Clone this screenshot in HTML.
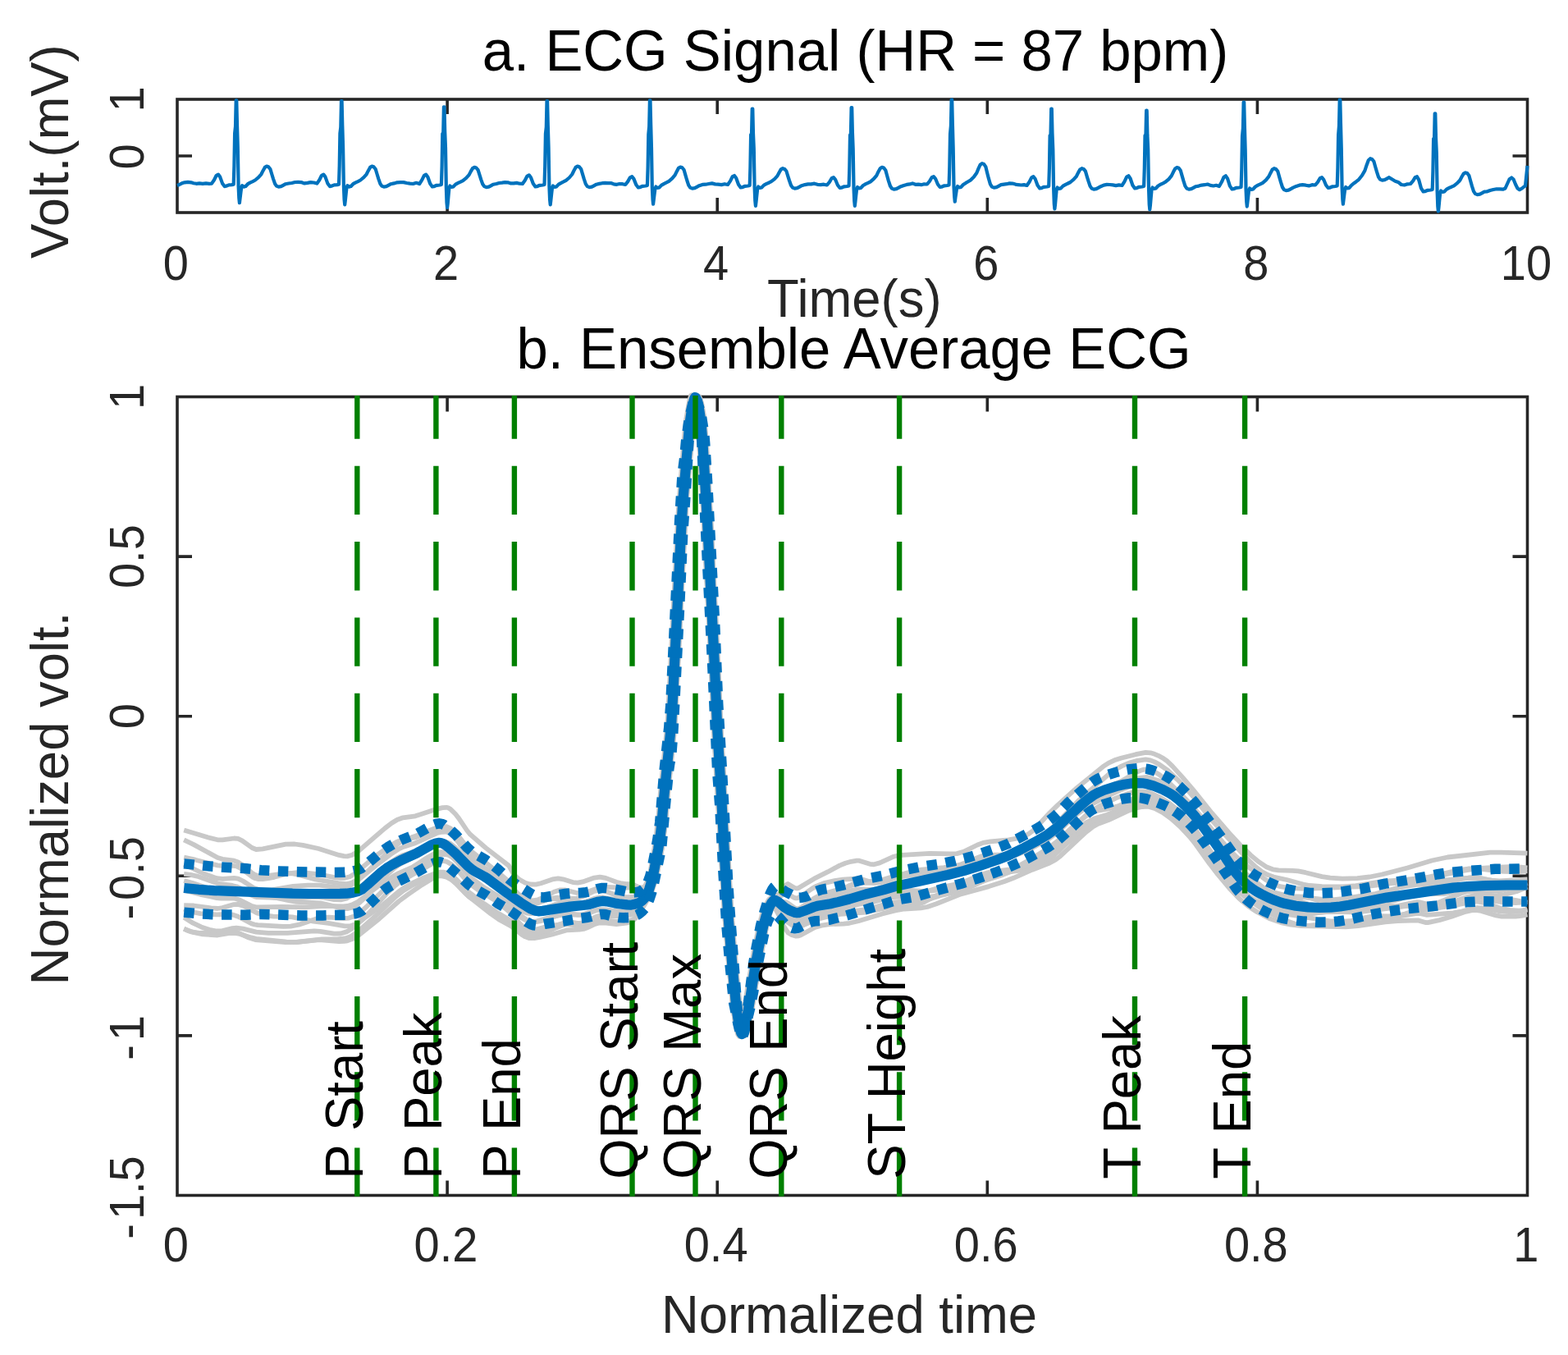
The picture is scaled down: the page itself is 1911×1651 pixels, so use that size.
<!DOCTYPE html>
<html lang="en"><head><meta charset="utf-8"><title>ECG Signal and Ensemble Average ECG</title>
<style>html,body{margin:0;padding:0;background:#fff}body{width:1911px;height:1651px;overflow:hidden}svg{display:block}text{font-family:'Liberation Sans', Arial, Helvetica, sans-serif}</style>
</head><body>
<svg width="1911" height="1651" viewBox="0 0 1911 1651">
<rect width="1911" height="1651" fill="#fff"/>
<defs><clipPath id="cb"><rect x="214" y="476.5" width="1649.5" height="985"/></clipPath>
<clipPath id="cg"><rect x="216" y="482" width="1645.5" height="976"/></clipPath>
<clipPath id="ct"><rect x="215" y="119" width="1649.5" height="142"/></clipPath></defs>
<g id="top-axes">
<g stroke="#262626" stroke-width="3.6" fill="none" stroke-linecap="butt">
<rect x="216" y="121" width="1645.5" height="138"/>
<path d="M545.1 121v18 M545.1 259v-18 M874.2 121v18 M874.2 259v-18 M1203.3 121v18 M1203.3 259v-18 M1532.4 121v18 M1532.4 259v-18 M216 190h18 M1861.5 190h-18"/>
</g>
<path d="M216 225.9 L218.5 225 L221.7 223.3 L225 222.3 L229 221.8 L233 222.3 L236 223.2 L239.3 223.8 L243 223.4 L247 223.9 L251 223.3 L255 223.8 L258 223.6 L261 219.2 L263.7 213.8 L266 212.6 L268.2 215.6 L271 223.4 L273.7 227.1 L275.5 226.8 L279 225.4 L282.5 225.1 L284.7 224.6 L285.4 202.6 L286.1 162.6 L287 154.3 L287.7 122.3 L288.3 122.3 L289 152.3 L289.8 179.6 L290.6 226.6 L291.3 241.2 L291.9 247.2 L292.5 242.2 L293.4 234.8 L294.2 228.6 L295.2 226.1 L297 227.6 L299.4 227 L302 224.2 L305.2 222.4 L308 221.1 L311 219.5 L315 216.2 L318.4 212.3 L320.6 207.9 L322.8 203.9 L325 202.6 L327.2 203.3 L329.4 206 L331.2 212 L333 217.8 L335 223.7 L337 226.6 L339.5 227.6 L342.5 227.2 L345 225.8 L348 224.2 L351.8 223.5 L355.7 223 L359.5 222 L363.3 221.9 L367.1 222.1 L371 223.4 L374.8 222.9 L378.6 222.1 L382.5 222.5 L386.3 223.6 L389.3 219.2 L392 213.8 L394.3 212.6 L396.5 215.6 L399.3 223.4 L402 227.1 L403.8 226.8 L407.3 225.4 L410.8 225.1 L413 224.6 L413.7 202.6 L414.4 162.6 L415.3 155 L416 123 L416.6 123 L417.3 153 L418.1 179.6 L418.9 226.6 L419.6 243.4 L420.2 249.4 L420.8 244.4 L421.7 235.8 L422.5 228.6 L423.5 226.1 L425.3 227.6 L427.7 227 L430.3 224.2 L433.5 222.4 L436.3 221.1 L439.3 219.5 L443.3 216.2 L446.7 212.3 L448.9 207.9 L451.1 203.9 L453.3 202.6 L455.5 203.3 L457.7 206 L459.5 212 L461.3 217.8 L463.3 223.7 L465.3 226.6 L467.8 227.6 L470.8 227.2 L473.3 225.8 L476.3 224.2 L480.2 223.4 L484.1 222.3 L487.9 222.2 L491.8 222.1 L495.7 223 L499.6 223.6 L503.4 224 L507.3 222.8 L511.2 224 L514.2 219.4 L516.9 213.8 L519.2 212.6 L521.4 215.7 L524.2 223.8 L526.9 227.5 L528.7 227.2 L532.2 225.8 L535.7 225.5 L537.9 225 L538.6 203 L539.3 163 L540.2 162.3 L540.9 130.3 L541.5 130.3 L542.2 160.3 L543 180 L543.8 227 L544.5 247 L545.1 253 L545.7 248 L546.6 237.6 L547.4 229 L548.4 226.5 L550.2 228 L552.6 227.4 L555.2 224.6 L558.4 222.9 L561.2 221.6 L564.2 220.1 L568.2 216.9 L571.6 213.1 L573.8 208.9 L576 205.1 L578.2 203.8 L580.4 204.5 L582.6 207.1 L584.4 212.9 L586.2 218.6 L588.2 224.2 L590.2 227.1 L592.7 228.1 L595.7 227.7 L598.2 226.3 L601.2 224.7 L604.8 224 L608.3 223 L611.9 222.6 L615.4 222.1 L619 222.3 L622.6 223.4 L626.1 223.4 L629.7 222.9 L633.2 223.7 L636.8 224 L639.8 219.7 L642.5 214.5 L644.8 213.3 L647 216.2 L649.8 223.8 L652.5 227.5 L654.3 227.2 L657.8 225.8 L661.3 225.5 L663.5 225 L664.2 203 L664.9 163 L665.8 155 L666.5 123 L667.1 123 L667.8 153 L668.6 180 L669.4 227 L670.1 243.4 L670.7 249.4 L671.3 244.4 L672.2 236 L673 229 L674 226.5 L675.8 228 L678.2 227.4 L680.8 224.6 L684 222.8 L686.8 221.4 L689.8 219.8 L693.8 216.5 L697.2 212.5 L699.4 208 L701.6 203.9 L703.8 202.6 L706 203.3 L708.2 206 L710 212.2 L711.8 218.2 L713.8 224.1 L715.8 227.1 L718.3 228.1 L721.3 227.7 L723.8 226.3 L726.8 224.7 L730.3 223.9 L733.9 223.2 L737.4 222.9 L741 223.2 L744.5 223.1 L748 224.3 L751.6 224.8 L755.1 224 L758.7 224.2 L762.2 225 L765.2 221.1 L767.9 216.3 L770.2 215.2 L772.4 217.9 L775.2 224.9 L777.9 228.5 L779.7 228.2 L783.2 226.8 L786.7 226.5 L788.9 226 L789.6 204 L790.3 164 L791.2 154.3 L791.9 122.3 L792.5 122.3 L793.2 152.3 L794 181 L794.8 228 L795.5 242.7 L796.1 248.7 L796.7 243.7 L797.6 236.2 L798.4 230 L799.4 227.5 L801.2 229 L803.6 228.4 L806.2 225.6 L809.4 223.8 L812.2 222.4 L815.2 220.8 L819.2 217.4 L822.6 213.4 L824.8 208.9 L827 204.8 L829.2 203.5 L831.4 204.2 L833.6 207 L835.4 213.4 L837.2 219.5 L839.2 225.6 L841.2 228.6 L843.7 229.6 L846.7 229.2 L849.2 227.8 L852.2 226.2 L856.1 224.9 L859.9 224.7 L863.8 224 L867.7 223.4 L871.5 224.4 L875.4 224.7 L879.3 225.1 L883.1 224.2 L887 225 L890 220.6 L892.7 215.2 L895 214 L897.2 217 L900 224.8 L902.7 228.5 L904.5 228.2 L908 226.8 L911.5 226.5 L913.7 226 L914.4 204 L915.1 164 L916 164.5 L916.7 132.5 L917.3 132.5 L918 162.5 L918.8 181 L919.6 228 L920.3 244.9 L920.9 250.9 L921.5 245.9 L922.4 237.2 L923.2 230 L924.2 227.5 L926 229 L928.4 228.4 L931 225.6 L934.2 223.9 L937 222.7 L940 221.2 L944 218.1 L947.4 214.4 L949.6 210.2 L951.8 206.4 L954 205.2 L956.2 205.9 L958.4 208.5 L960.2 214.4 L962 220 L964 225.7 L966 228.6 L968.5 229.6 L971.5 229.2 L974 227.8 L977 226.2 L980.9 225.1 L984.7 224.4 L988.6 224.3 L992.5 223.7 L996.3 224.8 L1000.2 225.2 L1004 224.7 L1007.9 225.5 L1010.9 221.9 L1013.6 217.2 L1015.9 216.2 L1018.1 218.8 L1020.9 225.5 L1023.6 229 L1025.4 228.7 L1028.9 227.3 L1032.4 227 L1034.6 226.5 L1035.3 204.5 L1036 164.5 L1036.9 163 L1037.6 131 L1038.2 131 L1038.9 161 L1039.7 181.5 L1040.5 228.5 L1041.2 244.9 L1041.8 250.9 L1042.4 245.9 L1043.3 237.5 L1044.1 230.5 L1045.1 228 L1046.9 229.5 L1049.3 228.9 L1051.9 226 L1055.1 224.2 L1057.9 222.9 L1060.9 221.3 L1064.9 217.9 L1068.3 213.8 L1070.5 209.2 L1072.7 205.2 L1074.9 203.8 L1077.1 204.5 L1079.3 207.4 L1081.1 214 L1082.9 220.3 L1084.9 226.5 L1086.9 229.6 L1089.4 230.6 L1092.4 230.2 L1094.9 228.8 L1097.9 227.2 L1101.5 225.9 L1105 224.9 L1108.6 224.4 L1112.1 223.4 L1115.7 224.8 L1119.2 224.7 L1122.8 225.2 L1126.3 224.3 L1129.9 224.5 L1132.9 220.9 L1135.6 216.2 L1137.9 215.2 L1140.1 217.8 L1142.9 224.5 L1145.6 228 L1147.4 227.7 L1150.9 226.3 L1154.4 226 L1156.6 225.5 L1157.3 203.5 L1158 163.5 L1158.9 153.5 L1159.6 121.5 L1160.2 121.5 L1160.9 151.5 L1161.7 180.5 L1162.5 227.5 L1163.2 239.7 L1163.8 245.7 L1164.4 240.7 L1165.3 234.6 L1166.1 229.5 L1167.1 227 L1168.9 228.5 L1171.3 227.9 L1173.9 225 L1177.1 222.9 L1179.9 221.3 L1182.9 219.4 L1186.9 215.5 L1190.3 210.7 L1192.5 205.4 L1194.7 200.7 L1196.9 199.1 L1199.1 199.9 L1201.3 203.1 L1203.1 210.4 L1204.9 217.4 L1206.9 224.4 L1208.9 227.6 L1211.4 228.6 L1214.4 228.2 L1216.9 226.8 L1219.9 225.2 L1223.4 224.7 L1226.9 224.2 L1230.4 223.4 L1233.9 223.6 L1237.5 224.6 L1241 225.2 L1244.5 225.5 L1248 225.1 L1251.5 226 L1254.5 221.7 L1257.2 216.4 L1259.5 215.2 L1261.7 218.1 L1264.5 225.8 L1267.2 229.5 L1269 229.2 L1272.5 227.8 L1276 227.5 L1278.2 227 L1278.9 205 L1279.6 165 L1280.5 164.5 L1281.2 132.5 L1281.8 132.5 L1282.5 162.5 L1283.3 182 L1284.1 229 L1284.8 248.5 L1285.4 254.5 L1286 249.5 L1286.9 239.4 L1287.7 231 L1288.7 228.5 L1290.5 230 L1292.9 229.4 L1295.5 226.6 L1298.7 224.8 L1301.5 223.5 L1304.5 222 L1308.5 218.7 L1311.9 214.8 L1314.1 210.4 L1316.3 206.5 L1318.5 205.2 L1320.7 205.9 L1322.9 208.6 L1324.7 214.8 L1326.5 220.7 L1328.5 226.6 L1330.5 229.6 L1333 230.6 L1336 230.2 L1338.5 228.8 L1341.5 227.2 L1345.2 225.6 L1348.9 224.9 L1352.6 225 L1356.3 225.4 L1360 226.1 L1363.7 225.4 L1367.4 226 L1370.4 221.3 L1373.1 215.6 L1375.4 214.3 L1377.6 217.5 L1380.4 225.7 L1383.1 229.5 L1384.9 229.2 L1388.4 227.8 L1391.9 227.5 L1394.1 227 L1394.8 205 L1395.5 165 L1396.4 166.7 L1397.1 134.7 L1397.7 134.7 L1398.4 164.7 L1399.2 182 L1400 229 L1400.7 249.3 L1401.3 255.3 L1401.9 250.3 L1402.8 239.7 L1403.6 231 L1404.6 228.5 L1406.4 230 L1408.8 229.4 L1411.4 226.5 L1414.6 224.7 L1417.4 223.3 L1420.4 221.7 L1424.4 218.3 L1427.8 214.2 L1430 209.6 L1432.2 205.5 L1434.4 204.1 L1436.6 204.8 L1438.8 207.7 L1440.6 214.1 L1442.4 220.4 L1444.4 226.6 L1446.4 229.6 L1448.9 230.6 L1451.9 230.2 L1454.4 228.8 L1457.4 227.2 L1461 226.6 L1464.5 225.6 L1468.1 225.2 L1471.7 224.5 L1475.2 225.9 L1478.8 226.5 L1482.3 225.8 L1485.9 227 L1488.9 221.8 L1491.6 215.7 L1493.9 214.3 L1496.1 217.7 L1498.9 226.6 L1501.6 230.5 L1503.4 230.2 L1506.9 228.8 L1510.4 228.5 L1512.6 228 L1513.3 206 L1514 166 L1514.9 156.5 L1515.6 124.5 L1516.2 124.5 L1516.9 154.5 L1517.7 183 L1518.5 230 L1519.2 245.6 L1519.8 251.6 L1520.4 246.6 L1521.3 238.6 L1522.1 232 L1523.1 229.5 L1524.9 231 L1527.3 230.4 L1529.9 227.5 L1533.1 225.7 L1535.9 224.4 L1538.9 222.8 L1542.9 219.3 L1546.3 215.2 L1548.5 210.7 L1550.7 206.6 L1552.9 205.2 L1555.1 205.9 L1557.3 208.8 L1559.1 215.4 L1560.9 221.7 L1562.9 228 L1564.9 231.1 L1567.4 232.1 L1570.4 231.7 L1572.9 230.3 L1575.9 228.7 L1579.8 226.9 L1583.6 225.7 L1587.5 225.2 L1591.4 225.7 L1595.3 226.4 L1599.1 225.2 L1603 225.5 L1606 221.9 L1608.7 217.2 L1611 216.2 L1613.2 218.8 L1616 225.5 L1618.7 229 L1620.5 228.7 L1624 227.3 L1627.5 227 L1629.7 226.5 L1630.4 204.5 L1631.1 164.5 L1632 153.5 L1632.7 121.5 L1633.3 121.5 L1634 151.5 L1634.8 181.5 L1635.6 228.5 L1636.3 242.7 L1636.9 248.7 L1637.5 243.7 L1638.4 236.5 L1639.2 230.5 L1640.2 228 L1642 229.5 L1644.4 228.9 L1647 225.8 L1650.2 223.2 L1653 221.2 L1656 218.8 L1660 213.8 L1663.4 207.9 L1665.6 201.2 L1667.8 195.2 L1670 193.2 L1672.2 193.9 L1674.4 196.8 L1676.2 203.2 L1678 209.4 L1680 215.6 L1682 218.6 L1684.5 219.6 L1687.5 219.2 L1690 217.8 L1693 216.2 L1696.7 218.5 L1700.4 220.7 L1704.1 221.9 L1707.9 225 L1711.6 225.5 L1715.3 224.3 L1719 224 L1722 220.6 L1724.7 216.2 L1727 215.2 L1729.2 219.1 L1732 229.4 L1734.7 233.5 L1736.5 233.2 L1740 231.8 L1743.5 231.5 L1745.7 231 L1746.4 209 L1747.1 169 L1748 170.4 L1748.7 138.4 L1749.3 138.4 L1750 168.4 L1750.8 186 L1751.6 233 L1752.3 251.5 L1752.9 257.5 L1753.5 252.5 L1754.4 242.9 L1755.2 235 L1756.2 232.5 L1758 234 L1760.4 233.4 L1763 230.6 L1766.2 228.9 L1769 227.7 L1772 226.3 L1776 223.2 L1779.4 219.5 L1781.6 215.3 L1783.8 211.6 L1786 210.4 L1788.2 211.1 L1790.4 214 L1792.2 220.5 L1794 226.8 L1796 233.1 L1798 236.1 L1800.5 237.1 L1803.5 236.7 L1806 235.3 L1809 233.7 L1812 233.5 L1816 232 L1820 231 L1824 230.3 L1828 230.4 L1832 230.6 L1834.5 229.5 L1837 224 L1839.5 218.5 L1842.3 216.5 L1844.6 218.5 L1847 224.5 L1849.5 229.5 L1852 231.2 L1855 229.5 L1857.3 227.5 L1859 226.5 L1860.2 215 L1861.5 202" fill="none" stroke="#0072BD" stroke-width="4.2" stroke-linejoin="round" stroke-linecap="butt" clip-path="url(#ct)"/>
<g fill="#262626" font-size="58.33" text-anchor="middle">
<text transform="translate(214.4 340.9) scale(0.96 1.03)">0</text>
<text transform="translate(543.5 340.9) scale(0.96 1.03)">2</text>
<text transform="translate(872.6 340.9) scale(0.96 1.03)">4</text>
<text transform="translate(1201.7 340.9) scale(0.96 1.03)">6</text>
<text transform="translate(1530.8 340.9) scale(0.96 1.03)">8</text>
<text transform="translate(1859.9 340.9) scale(0.96 1.03)">10</text>
<text transform="translate(175.2 191) rotate(-90) scale(0.96 1.03)">0</text>
<text transform="translate(175.2 121) rotate(-90) scale(0.96 1.03)">1</text>
</g>
<g fill="#262626" font-size="63.45" text-anchor="middle">
<text transform="translate(1041.3 386.3) scale(1.0 1.03)">Time(s)</text>
<text transform="translate(83 184.7) rotate(-90) scale(1.0 1.03)">Volt.(mV)</text>
</g>
<g fill="#000" font-size="68.9" text-anchor="middle">
<text transform="translate(1042.5 86) scale(1.0 1.03)">a. ECG Signal (HR = 87 bpm)</text>
</g>
</g>
<g id="bottom-axes">
<g fill="#000" font-size="68.9" text-anchor="middle">
<text transform="translate(1040.5 449.2) scale(1.0 1.03)">b. Ensemble Average ECG</text>
</g>
<g stroke="#262626" stroke-width="3.6" fill="none">
<rect x="216" y="483.5" width="1645.5" height="973"/>
<path d="M545.1 483.5v18 M545.1 1456.5v-18 M874.2 483.5v18 M874.2 1456.5v-18 M1203.3 483.5v18 M1203.3 1456.5v-18 M1532.4 483.5v18 M1532.4 1456.5v-18 M216 678.1h18 M1861.5 678.1h-18 M216 872.7h18 M1861.5 872.7h-18 M216 1067.3h18 M1861.5 1067.3h-18 M216 1261.9h18 M1861.5 1261.9h-18"/>
</g>
<g clip-path="url(#cb)" fill="none" stroke-linejoin="round">
<g stroke="#C8C8C8" stroke-width="5.8">
<path d="M224.2 1011.4 L253.2 1020.2 L265.2 1023.3 L271.2 1023.4 L285.2 1021.5 L290.2 1021.9 L295.2 1024.3 L307.2 1033 L312.2 1035 L320.2 1034.4 L348.2 1028.7 L359.2 1028.5 L369.2 1029.9 L388.2 1034 L413.2 1041.9 L419.2 1043.2 L423.2 1043.4 L429.2 1041.8 L436.2 1037.6 L469.2 1009.1 L477.2 1003 L484.2 998.7 L491.2 996.3 L506.2 994.3 L532.2 985.8 L539.2 984.2 L544.2 983.8 L546.2 984.3 L549.2 986.1 L555.2 992 L559.2 997.1 L569.2 1012 L573.2 1016.8 L592.2 1033.2 L620.2 1054.9 L626.2 1065.6 L633.2 1071.8 L640.2 1075.8 L646.2 1077.5 L653.2 1077.6 L659.2 1076.2 L673.2 1071.4 L680.2 1070.4 L686.2 1071.3 L698.2 1075.1 L704.2 1075.6 L710.2 1074.4 L724.2 1069.6 L731.2 1068.6 L738.2 1069.9 L751.2 1074.7 L756.2 1076.1 L763.2 1077.1 L770.2 1077.1 L779.2 1081.4 L783.2 1081.5 L785.2 1080.6 L787.2 1077.7 L789.2 1073.1 L790.2 1072.7 L792.2 1063.9 L798.2 1029.2 L802.2 997.4 L805.2 961.9 L813.2 883.7 L814.2 869.5 L826.2 630.9 L828.2 601.6 L834.2 529.5 L836.2 510.8 L840.2 488 L842.2 481.7 L843.2 481.4 L844.2 483.3 L846.2 490.2 L849.2 506.7 L852.2 542 L857.2 627.2 L866.2 806.8 L870.2 896.4 L882.2 1104.1 L886.2 1154.9 L892.2 1218.8 L895.2 1240.6 L897.2 1250.3 L899.2 1256.8 L900.2 1257 L901.2 1255.2 L905.2 1238.7 L919.2 1156 L925.2 1127.4 L929.2 1112.8 L933.2 1102.5 L937.2 1095.8 L940.2 1093 L945.2 1091.8 L949.2 1089.5 L952.2 1086 L955.2 1080.8 L958.2 1078.1 L960.2 1077 L968.2 1081.8 L971.2 1082.5 L973.2 1082.1 L992.2 1070.7 L1009.2 1062.2 L1023.2 1054.6 L1030.2 1051.7 L1037.2 1049.8 L1044.2 1048.7 L1047.2 1048.7 L1060.2 1052.8 L1065.2 1053.3 L1072.2 1051.4 L1089.2 1043.7 L1095.2 1042.2 L1133.2 1039.9 L1158.2 1040.4 L1166.2 1040.1 L1174.2 1037.8 L1191.2 1029.5 L1198.2 1026.9 L1207.2 1025.3 L1229.2 1023.4 L1240.2 1021.4 L1247.2 1019.3 L1253.2 1016.4 L1259.2 1012 L1279.2 990.6 L1289.2 980.9 L1312.2 960.2 L1344.2 934.2 L1351.2 929.6 L1358.2 926.3 L1366.2 923.8 L1384.2 919.2 L1396.2 916.9 L1402.2 917.3 L1407.2 918.8 L1413.2 921.4 L1418.2 924.3 L1422.2 927.2 L1429.2 933.9 L1441.2 947.1 L1454.2 962.4 L1477.2 991 L1498.2 1015.1 L1511.2 1029.2 L1524.2 1041.9 L1534.2 1050.2 L1543.2 1056.2 L1551.2 1059.3 L1558.2 1060.4 L1575.2 1060.8 L1582.2 1061.4 L1591.2 1063.2 L1611.2 1068.1 L1621.2 1069.7 L1636.2 1070.6 L1654.2 1070.1 L1669.2 1068.5 L1684.2 1065.5 L1715.2 1057.5 L1745.2 1048.5 L1764.2 1044.5 L1816.2 1038.7 L1829.2 1038.6 L1861.5 1039.7"/>
<path d="M224.2 1023.4 L236.2 1029.1 L265.2 1045 L271.2 1046.8 L285.2 1048.7 L290.2 1050.5 L295.2 1053.8 L307.2 1063.8 L310.2 1065.6 L313.2 1066.8 L318.2 1067.3 L325.2 1067.2 L347.2 1064.3 L355.2 1064.2 L363.2 1065.6 L384.2 1071.4 L412.2 1076.2 L422.2 1077.1 L426.2 1076.4 L430.2 1074.9 L434.2 1072.7 L439.2 1069.1 L450.2 1059.7 L479.2 1032.7 L488.2 1025.9 L494.2 1023 L505.2 1019.1 L530.2 1009.2 L537.2 1007.5 L544.2 1007.2 L549.2 1009.4 L555.2 1014.7 L559.2 1019.2 L569.2 1032.1 L573.2 1036.2 L609.2 1064.7 L620.2 1074.1 L626.2 1083.8 L631.2 1088.8 L637.2 1093.5 L643.2 1096.4 L649.2 1097.4 L655.2 1096.4 L661.2 1094 L675.2 1086.7 L682.2 1084.5 L689.2 1084.5 L702.2 1087.8 L709.2 1088.2 L716.2 1086.7 L730.2 1081.5 L736.2 1080.6 L757.2 1081.6 L770.2 1081.4 L782.2 1087.2 L785.2 1087.6 L789.2 1086.9 L790.2 1088.2 L793.2 1082.2 L796.2 1074.4 L800.2 1059.6 L807.2 1021.7 L810.2 996.6 L813.2 961.2 L821.2 882.4 L822.2 867.2 L835.2 612.3 L843.2 517.8 L847.2 492.5 L849.2 484.3 L850.2 482.2 L851.2 482.4 L853.2 488 L856.2 502.1 L858.2 518.5 L860.2 546.1 L865.2 632 L874.2 811.8 L877.2 882.1 L890.2 1107.9 L895.2 1169.7 L900.2 1221.7 L903.2 1242.7 L905.2 1252.3 L907.2 1258.1 L908.2 1257.9 L909.2 1255.7 L914.2 1233.8 L924.2 1172.3 L934.2 1121.8 L937.2 1110.6 L940.2 1101.9 L942.2 1097.7 L945.2 1094 L951.2 1092 L955.2 1089.7 L959.2 1089.2 L960.2 1089.3 L968.2 1093.9 L970.2 1094.4 L972.2 1094.2 L977.2 1091.4 L990.2 1082.4 L995.2 1079.6 L1005.2 1075.8 L1017.2 1073.1 L1027.2 1071.6 L1045.2 1070.5 L1050.2 1071.2 L1064.2 1075.5 L1068.2 1075.7 L1073.2 1075.3 L1081.2 1073.2 L1102.2 1064.6 L1114.2 1061 L1123.2 1059.6 L1150.2 1057.1 L1164.2 1055.1 L1171.2 1053.3 L1187.2 1047.2 L1194.2 1045.1 L1201.2 1044.2 L1217.2 1044.2 L1224.2 1043.7 L1231.2 1042.3 L1240.2 1039.3 L1252.2 1033.5 L1258.2 1029.7 L1263.2 1025.7 L1286.2 1004.9 L1314.2 975.8 L1352.2 942.6 L1359.2 937.7 L1367.2 933.4 L1377.2 929.3 L1386.2 926.8 L1396.2 925.4 L1402.2 926.4 L1407.2 928.4 L1413.2 931.6 L1423.2 938.6 L1435.2 950.1 L1447.2 962.6 L1455.2 971.9 L1478.2 1000.9 L1522.2 1048.7 L1530.2 1056.1 L1538.2 1062.2 L1545.2 1066.1 L1552.2 1068.6 L1568.2 1072 L1588.2 1077.5 L1596.2 1079 L1611.2 1080.2 L1636.2 1080.5 L1650.2 1079.5 L1683.2 1074.2 L1715.2 1071.7 L1739.2 1069 L1778.2 1060.1 L1789.2 1058.5 L1801.2 1058.4 L1824.2 1061.2 L1833.2 1061.9 L1848.2 1062 L1861.5 1061.4"/>
<path d="M224.2 1044.6 L238.2 1047.7 L265.2 1054.4 L270.2 1054.9 L282.2 1054.7 L288.2 1055.5 L294.2 1058.5 L308.2 1068.9 L311.2 1070.3 L314.2 1071 L320.2 1071 L327.2 1070.2 L334.2 1068.8 L351.2 1064.3 L362.2 1063.2 L371.2 1063.5 L387.2 1065.2 L409.2 1069.3 L415.2 1069.9 L420.2 1069.8 L426.2 1068.2 L432.2 1064.7 L460.2 1041.3 L474.2 1031.3 L483.2 1025.9 L490.2 1023.3 L507.2 1020.1 L533.2 1010.2 L538.2 1009.1 L543.2 1008.9 L545.2 1009.3 L548.2 1010.9 L553.2 1015.4 L558.2 1021.5 L570.2 1039.4 L578.2 1047.6 L590.2 1057.1 L610.2 1069.9 L618.2 1075.7 L621.2 1078.5 L626.2 1086.3 L630.2 1090.1 L637.2 1095.5 L643.2 1098.5 L648.2 1099.5 L653.2 1099.4 L672.2 1094.7 L679.2 1093.6 L685.2 1093.7 L697.2 1094.9 L703.2 1094.6 L710.2 1092.5 L724.2 1085.9 L730.2 1084.6 L737.2 1085.7 L753.2 1091.5 L762.2 1093.1 L773.2 1093 L778.2 1092.5 L782.2 1090.9 L785.2 1088.8 L787.2 1086.2 L789.2 1082.1 L790.2 1081.2 L793.2 1069.8 L801.2 1027.1 L804.2 1004.9 L807.2 969.7 L816.2 880.2 L830.2 610.6 L838.2 517.1 L842.2 492.5 L844.2 484.7 L845.2 483 L846.2 483.7 L847.2 486.3 L850.2 498.4 L852.2 511.7 L854.2 534.4 L860.2 636.7 L869.2 816.7 L872.2 886.9 L885.2 1111.5 L890.2 1172.7 L895.2 1224.2 L898.2 1244.5 L900.2 1253.9 L901.2 1257.4 L902.2 1259 L903.2 1258.3 L904.2 1255.8 L908.2 1238.6 L919.2 1171.9 L924.2 1145.8 L928.2 1127.7 L931.2 1116.9 L935.2 1105.8 L938.2 1099.9 L941.2 1096.6 L943.2 1096.1 L951.2 1098.7 L955.2 1098.7 L958.2 1099.4 L960.2 1100.3 L968.2 1106.2 L971.2 1107.2 L973.2 1107.1 L979.2 1104.8 L993.2 1098 L1009.2 1091.5 L1034.2 1079.5 L1046.2 1074.5 L1051.2 1073.8 L1063.2 1074.2 L1068.2 1073.7 L1076.2 1071.8 L1093.2 1066.5 L1106.2 1064.2 L1146.2 1061.3 L1159.2 1059.7 L1165.2 1058.3 L1170.2 1056.5 L1189.2 1046 L1196.2 1043.1 L1204.2 1041.8 L1222.2 1041.3 L1230.2 1039.5 L1241.2 1035 L1255.2 1027.8 L1281.2 1011.3 L1292.2 1002.7 L1318.2 978.9 L1326.2 972.6 L1334.2 967 L1343.2 962.2 L1366.2 952 L1385.2 940.9 L1390.2 938.8 L1394.2 937.6 L1399.2 937.3 L1405.2 939.3 L1413.2 944.1 L1421.2 950.3 L1439.2 967.6 L1452.2 981 L1490.2 1026.1 L1499.2 1036.2 L1507.2 1044.3 L1521.2 1056.1 L1542.2 1071.7 L1551.2 1077 L1560.2 1080.2 L1572.2 1082.1 L1591.2 1082.8 L1667.2 1079.9 L1697.2 1076.2 L1720.2 1075 L1736.2 1073.1 L1764.2 1064.8 L1782.2 1061.1 L1797.2 1058.7 L1812.2 1057.5 L1839.2 1056.2 L1851.2 1056.4 L1861.5 1057.4"/>
<path d="M224.2 1053.2 L248.2 1064.5 L264.2 1070.2 L271.2 1070.9 L285.2 1069.8 L290.2 1070.6 L296.2 1073.5 L309.2 1081.9 L315.2 1083.8 L323.2 1084.5 L332.2 1084.2 L357.2 1079.9 L375.2 1078.6 L389.2 1078.6 L410.2 1081.1 L420.2 1081 L426.2 1079.2 L432.2 1075.8 L459.2 1053.8 L478.2 1039.5 L486.2 1034.3 L492.2 1031.7 L506.2 1027.2 L532.2 1015.3 L538.2 1013.8 L543.2 1013.5 L545.2 1013.9 L548.2 1015.4 L553.2 1019.8 L558.2 1025.7 L569.2 1041.6 L575.2 1048.1 L585.2 1056.1 L605.2 1068.8 L612.2 1073.9 L620.2 1081 L626.2 1090.5 L630.2 1094.6 L636.2 1099.5 L641.2 1101.8 L645.2 1102.6 L650.2 1102.2 L666.2 1096.5 L674.2 1095 L682.2 1095.4 L698.2 1099.8 L705.2 1100.6 L712.2 1099.5 L724.2 1094.9 L730.2 1093.5 L735.2 1093.5 L747.2 1095.5 L752.2 1095.8 L759.2 1095 L770.2 1092.8 L782.2 1093.3 L785.2 1092.8 L789.2 1091.4 L790.2 1092.2 L795.2 1082.8 L800.2 1067.8 L807.2 1032.2 L811.2 1002.7 L814.2 966.9 L822.2 888.7 L823.2 875.4 L835.2 637.1 L837.2 606.2 L845.2 514.4 L849.2 491.1 L851.2 484.2 L852.2 483.4 L853.2 485 L855.2 491.6 L858.2 507.5 L861.2 541.2 L867.2 645.5 L875.2 805.5 L879.2 895.5 L882.2 942.8 L889.2 1072 L892.2 1118.1 L897.2 1178.3 L902.2 1228.8 L904.2 1242.6 L906.2 1252.5 L908.2 1259.5 L909.2 1260.2 L910.2 1258.8 L911.2 1255.7 L915.2 1237.9 L925.2 1176.5 L935.2 1124.1 L940.2 1106.5 L942.2 1102.1 L945.2 1098.5 L946.2 1098.1 L948.2 1098.8 L966.2 1107.8 L969.2 1108.6 L971.2 1108.6 L973.2 1108 L976.2 1106.2 L992.2 1094.5 L999.2 1090.9 L1007.2 1088 L1030.2 1081.6 L1045.2 1076.5 L1051.2 1075.6 L1066.2 1075.8 L1074.2 1074.2 L1095.2 1068.5 L1108.2 1066.9 L1130.2 1065.6 L1153.2 1062.4 L1169.2 1058.8 L1195.2 1049 L1219.2 1044.8 L1228.2 1042.4 L1238.2 1038.4 L1248.2 1033.8 L1256.2 1029.6 L1263.2 1025.1 L1277.2 1015 L1285.2 1008.6 L1308.2 986.3 L1315.2 980.1 L1323.2 973.9 L1332.2 968.1 L1340.2 964 L1349.2 960.5 L1381.2 949.8 L1389.2 947.8 L1397.2 946.9 L1403.2 948.2 L1412.2 953 L1421.2 959.6 L1438.2 976.4 L1458.2 997.7 L1479.2 1023 L1499.2 1048.7 L1509.2 1059.7 L1521.2 1069.8 L1539.2 1081.7 L1549.2 1087.2 L1557.2 1090.1 L1566.2 1091.7 L1588.2 1093.2 L1612.2 1096 L1626.2 1096.1 L1661.2 1092.5 L1677.2 1089.8 L1693.2 1085.6 L1721.2 1075.8 L1730.2 1073.5 L1759.2 1072.6 L1791.2 1069.6 L1799.2 1069.9 L1818.2 1072.7 L1827.2 1073.4 L1861.5 1071.3"/>
<path d="M224.2 1073.1 L234.2 1075.8 L256.2 1083.2 L265.2 1085.5 L271.2 1085.6 L284.2 1083.3 L290.2 1083.3 L295.2 1084.7 L307.2 1089.8 L312.2 1091.2 L329.2 1092.3 L354.2 1097.7 L361.2 1098.8 L390.2 1100.4 L397.2 1101.8 L415.2 1106.4 L420.2 1107.2 L424.2 1107 L427.2 1106.3 L431.2 1104.7 L435.2 1102.2 L439.2 1099 L447.2 1091.3 L471.2 1066.3 L479.2 1059 L486.2 1053.7 L505.2 1043.6 L521.2 1033.6 L530.2 1028.5 L536.2 1026.3 L543.2 1025.7 L548.2 1027.4 L554.2 1032 L559.2 1037.4 L569.2 1050 L573.2 1054 L590.2 1067.2 L620.2 1088.9 L626.2 1096.7 L635.2 1104.8 L640.2 1108.2 L645.2 1110.5 L650.2 1111.2 L656.2 1110.4 L662.2 1108.4 L678.2 1101.8 L686.2 1100 L692.2 1100.2 L704.2 1102.8 L710.2 1103.2 L716.2 1102.3 L728.2 1098.6 L734.2 1098 L740.2 1098.6 L756.2 1101.6 L767.2 1102.2 L774.2 1101.2 L777.2 1099.9 L781.2 1096.7 L784.2 1093.5 L786.2 1090.3 L790.2 1080.5 L791.2 1076.6 L799.2 1032.8 L803.2 1002.9 L806.2 967.2 L814.2 889.6 L815.2 876.3 L827.2 638.8 L829.2 607.9 L837.2 516.2 L841.2 492.8 L843.2 485.9 L844.2 485.1 L845.2 486.7 L847.2 493.2 L850.2 508.9 L853.2 542.4 L859.2 646.5 L867.2 806.2 L871.2 896.1 L874.2 943.3 L881.2 1072.4 L884.2 1118.4 L889.2 1178.6 L894.2 1229.2 L896.2 1242.9 L898.2 1252.8 L900.2 1259.9 L901.2 1260.6 L902.2 1259.2 L903.2 1256.1 L907.2 1238.4 L917.2 1177 L926.2 1131.7 L930.2 1116.9 L933.2 1109 L937.2 1101.3 L940.2 1098.3 L942.2 1098 L943.2 1098.4 L951.2 1103.8 L959.2 1107.6 L968.2 1113.4 L971.2 1114.2 L973.2 1114.1 L979.2 1111.8 L993.2 1105 L1019.2 1094.2 L1028.2 1091.2 L1045.2 1088 L1060.2 1088.3 L1066.2 1087.5 L1073.2 1085.3 L1087.2 1079.4 L1094.2 1077 L1120.2 1071.3 L1143.2 1064.6 L1168.2 1059.2 L1174.2 1057 L1188.2 1050.6 L1195.2 1048.1 L1203.2 1046.8 L1222.2 1045.5 L1233.2 1042.9 L1245.2 1038.6 L1258.2 1033 L1279.2 1021.4 L1289.2 1013.8 L1305.2 998.5 L1312.2 992.4 L1321.2 985.8 L1332.2 979 L1355.2 967.4 L1365.2 962.9 L1378.2 958.1 L1391.2 954.8 L1398.2 953.9 L1405.2 955 L1415.2 959.3 L1423.2 964.7 L1430.2 971.3 L1440.2 981.7 L1476.2 1022.5 L1496.2 1044.1 L1506.2 1054.2 L1518.2 1064.5 L1544.2 1085 L1552.2 1090 L1559.2 1092.6 L1567.2 1093.5 L1582.2 1092.5 L1589.2 1092.7 L1596.2 1094.1 L1613.2 1099.3 L1618.2 1099.9 L1622.2 1099.8 L1629.2 1098.6 L1649.2 1093.1 L1676.2 1089 L1701.2 1082.5 L1712.2 1080.1 L1728.2 1077.7 L1739.2 1078.3 L1753.2 1077 L1764.2 1075.1 L1784.2 1070.3 L1793.2 1069.2 L1799.2 1069.4 L1805.2 1070.2 L1825.2 1074.7 L1833.2 1076 L1848.2 1077.6 L1861.5 1078.2"/>
<path d="M224.2 1064.9 L232.2 1065.8 L240.2 1067.6 L267.2 1077 L283.2 1079 L288.2 1080.2 L293.2 1082.5 L306.2 1090.7 L310.2 1092.4 L313.2 1093.1 L328.2 1093.5 L355.2 1095.2 L379.2 1093 L387.2 1092.8 L393.2 1093.5 L407.2 1096.2 L415.2 1096.4 L422.2 1094.7 L428.2 1091.3 L433.2 1087.2 L446.2 1074.7 L456.2 1066 L476.2 1050.7 L485.2 1044.8 L491.2 1042 L506.2 1037.3 L530.2 1027.7 L535.2 1026.5 L540.2 1026.2 L545.2 1027.1 L551.2 1030.9 L557.2 1036.9 L568.2 1050.6 L572.2 1054.9 L608.2 1083.2 L619.2 1092.4 L621.2 1094.3 L626.2 1101.4 L632.2 1107 L637.2 1110.5 L642.2 1112.7 L647.2 1113.2 L652.2 1112.1 L670.2 1104.2 L679.2 1101.3 L688.2 1100.5 L700.2 1101.4 L706.2 1101.1 L711.2 1100 L722.2 1095.9 L727.2 1094.7 L731.2 1094.5 L735.2 1095.2 L753.2 1101.1 L759.2 1102 L764.2 1102.1 L772.2 1101.3 L776.2 1100 L781.2 1097.5 L786.2 1093.5 L790.2 1088.9 L796.2 1069.8 L803.2 1035.5 L807.2 1008.4 L811.2 963.2 L819.2 884.7 L833.2 615.1 L841.2 520.4 L845.2 495.1 L847.2 486.8 L848.2 484.7 L849.2 484.9 L851.2 490.4 L854.2 504.3 L856.2 520.7 L858.2 548.2 L863.2 634 L872.2 813.8 L875.2 884.1 L888.2 1110.1 L893.2 1172 L898.2 1224.1 L901.2 1245.2 L903.2 1254.8 L905.2 1260.6 L906.2 1260.4 L907.2 1258.3 L912.2 1236.4 L922.2 1174.8 L931.2 1130 L934.2 1118.4 L938.2 1106.5 L940.2 1102.4 L943.2 1099.3 L944.2 1099 L946.2 1099.7 L954.2 1105.6 L966.2 1113.5 L969.2 1114.7 L972.2 1114.8 L978.2 1111.9 L992.2 1102.2 L1000.2 1097.9 L1014.2 1091.4 L1026.2 1087.2 L1045.2 1083.5 L1064.2 1083.9 L1070.2 1082.5 L1085.2 1077.4 L1092.2 1075.7 L1117.2 1074 L1128.2 1072.4 L1167.2 1063.8 L1196.2 1052.7 L1220.2 1047.9 L1229.2 1045.4 L1242.2 1040.3 L1254.2 1034.9 L1261.2 1031.2 L1273.2 1023.7 L1280.2 1018.9 L1286.2 1014.1 L1308.2 992.3 L1321.2 981.9 L1357.2 957.9 L1366.2 953.7 L1376.2 951.1 L1396.2 948.5 L1401.2 948.5 L1406.2 949.4 L1412.2 951.3 L1417.2 953.5 L1421.2 955.9 L1425.2 959 L1431.2 964.7 L1443.2 977.9 L1453.2 990.4 L1470.2 1013.6 L1477.2 1022.2 L1503.2 1048.4 L1522.2 1068.9 L1529.2 1075.6 L1536.2 1080.8 L1544.2 1084.9 L1550.2 1086.8 L1566.2 1090.7 L1587.2 1099.3 L1594.2 1101.6 L1604.2 1103.6 L1617.2 1104.9 L1631.2 1105.6 L1642.2 1105.2 L1650.2 1104 L1672.2 1099.3 L1693.2 1098.2 L1700.2 1097.2 L1706.2 1095.5 L1722.2 1088.9 L1728.2 1087 L1731.2 1086.9 L1739.2 1088.3 L1749.2 1089 L1759.2 1089.1 L1768.2 1087.7 L1786.2 1082.9 L1794.2 1082 L1801.2 1082.5 L1818.2 1085.3 L1828.2 1085.4 L1843.2 1082.2 L1861.5 1076.1"/>
<path d="M224.2 1084.7 L244.2 1089.8 L264.2 1094.1 L269.2 1094.5 L282.2 1094.3 L287.2 1094.9 L293.2 1097 L306.2 1103.7 L313.2 1105.5 L343.2 1104.8 L372.2 1105.4 L396.2 1103.8 L418.2 1104.3 L423.2 1104 L429.2 1102.4 L436.2 1098.7 L462.2 1078.8 L479.2 1067.6 L486.2 1063.9 L503.2 1056.3 L520.2 1045.2 L528.2 1040.7 L533.2 1038.7 L538.2 1038.1 L542.2 1038.6 L545.2 1039.6 L551.2 1043.8 L557.2 1050 L572.2 1068.6 L591.2 1086.2 L600.2 1093.9 L609.2 1100.4 L620.2 1106.9 L626.2 1112.3 L633.2 1117.1 L639.2 1120.6 L644.2 1122.5 L648.2 1123 L654.2 1122.3 L676.2 1116.3 L685.2 1114.6 L691.2 1114.2 L704.2 1114.9 L710.2 1114.3 L724.2 1109.7 L729.2 1108.6 L734.2 1108.8 L749.2 1111.5 L757.2 1110.9 L765.2 1108.7 L772.2 1105.8 L779.2 1101 L784.2 1096.9 L790.2 1090.7 L796.2 1074.2 L800.2 1057.8 L803.2 1042.2 L806.2 1025.1 L808.2 1010.3 L812.2 965.4 L820.2 887.4 L821.2 873.2 L833.2 634.7 L835.2 605.4 L841.2 533.3 L843.2 514.6 L847.2 491.8 L849.2 485.5 L850.2 485.2 L851.2 487.1 L853.2 494 L856.2 510.4 L859.2 545.7 L864.2 630.7 L873.2 810.1 L877.2 899.4 L889.2 1106.9 L893.2 1157.8 L899.2 1221.8 L902.2 1243.7 L904.2 1253.4 L906.2 1260 L907.2 1260.2 L908.2 1258.4 L913.2 1237.2 L923.2 1176 L932.2 1130.8 L935.2 1119 L938.2 1109.7 L940.2 1105.1 L943.2 1101.5 L945.2 1101.1 L946.2 1101.6 L955.2 1110.8 L960.2 1115.2 L964.2 1117.9 L969.2 1120.3 L973.2 1120.5 L992.2 1113.6 L1005.2 1110.1 L1043.2 1097.8 L1049.2 1096.4 L1065.2 1094.3 L1091.2 1086.3 L1103.2 1084.8 L1110.2 1084.9 L1128.2 1086.1 L1142.2 1084.7 L1155.2 1081.6 L1190.2 1071.1 L1220.2 1064.3 L1230.2 1060.6 L1242.2 1054.7 L1260.2 1044.4 L1278.2 1033.1 L1289.2 1024.6 L1305.2 1009.4 L1314.2 1001.6 L1322.2 995.4 L1328.2 991.5 L1332.2 989.5 L1337.2 987.8 L1352.2 985.1 L1362.2 982.3 L1369.2 979.3 L1386.2 970.2 L1391.2 968.1 L1396.2 966.7 L1400.2 966.5 L1404.2 967.3 L1414.2 971.6 L1424.2 977.9 L1437.2 988.5 L1445.2 996.3 L1452.2 1004.3 L1483.2 1048.1 L1498.2 1067 L1511.2 1081.7 L1521.2 1091 L1530.2 1097.6 L1540.2 1102.7 L1551.2 1106.3 L1578.2 1111.8 L1589.2 1113.1 L1595.2 1113 L1619.2 1110.8 L1647.2 1111.3 L1661.2 1110.7 L1727.2 1102.3 L1730.2 1102.5 L1739.2 1104.2 L1750.2 1103 L1768.2 1099.4 L1788.2 1093.1 L1796.2 1091.2 L1804.2 1090.7 L1824.2 1091.2 L1833.2 1090.1 L1848.2 1086.3 L1861.5 1080.9"/>
<path d="M224.2 1107.5 L233.2 1111 L244.2 1113.1 L264.2 1114.4 L277.2 1114 L284.2 1114.7 L290.2 1116.8 L306.2 1125.2 L310.2 1126.5 L314.2 1127.1 L345.2 1128.8 L354.2 1128.6 L364.2 1126.7 L384.2 1119.9 L392.2 1118 L401.2 1117.6 L419.2 1119 L425.2 1118.6 L432.2 1116.2 L439.2 1111.5 L447.2 1104.3 L470.2 1081.7 L477.2 1075.7 L484.2 1070.6 L490.2 1067.1 L506.2 1059 L531.2 1043.4 L536.2 1041.5 L541.2 1040.9 L546.2 1041.7 L551.2 1044.6 L557.2 1050.2 L569.2 1064.8 L574.2 1069.6 L588.2 1080.1 L610.2 1093.8 L619.2 1099.9 L621.2 1101.6 L626.2 1107.4 L636.2 1116.6 L642.2 1120.8 L647.2 1122.9 L652.2 1123.3 L658.2 1122.5 L666.2 1120.2 L680.2 1115.2 L688.2 1113.4 L694.2 1113.3 L706.2 1114.7 L712.2 1114.4 L717.2 1112.9 L727.2 1109.1 L731.2 1108.2 L738.2 1108.3 L756.2 1110.7 L769.2 1110.4 L774.2 1108.5 L779.2 1104.5 L786.2 1096.1 L790.2 1087.8 L791.2 1084.4 L794.2 1072.4 L798.2 1052.1 L802.2 1029.8 L805.2 1007.7 L808.2 972.4 L817.2 882.6 L831.2 612.5 L839.2 518.9 L843.2 494.4 L845.2 486.6 L846.2 484.9 L847.2 485.6 L848.2 488.2 L851.2 500.4 L853.2 513.7 L855.2 536.5 L861.2 638.9 L870.2 819 L873.2 889.2 L886.2 1113.7 L891.2 1174.9 L896.2 1226.5 L899.2 1246.9 L901.2 1256.3 L902.2 1259.8 L903.2 1261.5 L904.2 1260.9 L905.2 1258.4 L909.2 1241.2 L920.2 1174.6 L925.2 1148.3 L929.2 1130.2 L932.2 1119.5 L936.2 1108.5 L939.2 1102.8 L941.2 1101 L943.2 1100.6 L945.2 1101.9 L955.2 1113.2 L963.2 1120.2 L969.2 1123.6 L973.2 1124.1 L979.2 1122.5 L992.2 1117.8 L1003.2 1114.9 L1033.2 1105.2 L1046.2 1101.9 L1064.2 1099 L1084.2 1093.6 L1095.2 1092.6 L1117.2 1094.2 L1126.2 1094 L1157.2 1088.7 L1168.2 1086.1 L1176.2 1083.1 L1198.2 1073.4 L1222.2 1065.9 L1231.2 1062.4 L1243.2 1056.8 L1263.2 1046.2 L1276.2 1038.5 L1285.2 1031.9 L1292.2 1025.2 L1314.2 1001.8 L1323.2 993.6 L1331.2 987.5 L1341.2 981.6 L1360.2 972.4 L1374.2 967.1 L1383.2 964.9 L1389.2 964.3 L1395.2 964.3 L1398.2 964.8 L1402.2 966.2 L1408.2 969.5 L1417.2 975.3 L1437.2 989.7 L1445.2 996.9 L1451.2 1003.8 L1457.2 1012.2 L1473.2 1036.9 L1477.2 1042 L1482.2 1047.3 L1488.2 1052.7 L1505.2 1066.2 L1525.2 1085.6 L1532.2 1091.6 L1542.2 1098 L1548.2 1100.7 L1554.2 1102.6 L1582.2 1110 L1589.2 1111.2 L1595.2 1111.6 L1611.2 1110.8 L1661.2 1105.7 L1683.2 1104 L1718.2 1103.6 L1728.2 1103 L1738.2 1104 L1743.2 1102.9 L1751.2 1100.4 L1782.2 1087.9 L1788.2 1086.3 L1794.2 1085.7 L1803.2 1086.9 L1827.2 1093.9 L1848.2 1097 L1861.5 1099.8"/>
<path d="M224.2 1103.2 L236.2 1103.5 L257.2 1106.3 L265.2 1107 L271.2 1106.1 L284.2 1102.2 L290.2 1101.9 L297.2 1103.9 L313.2 1112.4 L325.2 1115.7 L333.2 1116.7 L349.2 1116.8 L356.2 1117.3 L382.2 1122.7 L400.2 1124.9 L420.2 1128.4 L427.2 1128.2 L434.2 1125.6 L442.2 1119.6 L450.2 1111.7 L473.2 1086.9 L480.2 1080.3 L486.2 1075.5 L493.2 1071.1 L527.2 1052.3 L533.2 1049.6 L538.2 1048.9 L542.2 1049.3 L545.2 1050.2 L551.2 1053.9 L557.2 1059.7 L567.2 1071.6 L572.2 1076.7 L583.2 1084.6 L601.2 1095.7 L609.2 1101.2 L620.2 1110.5 L627.2 1118.9 L635.2 1127 L640.2 1130.8 L645.2 1132.9 L648.2 1133.3 L652.2 1132.8 L667.2 1128.7 L681.2 1126.6 L690.2 1126.2 L703.2 1127.5 L710.2 1127.2 L715.2 1125.6 L726.2 1119.5 L731.2 1117.5 L738.2 1116.5 L754.2 1116.3 L769.2 1114.5 L773.2 1112.6 L776.2 1110.2 L780.2 1105.5 L785.2 1097.8 L790.2 1083.1 L797.2 1044.7 L802.2 1009 L805.2 973.7 L814.2 883.9 L828.2 613.4 L836.2 519.7 L840.2 495.2 L842.2 487.4 L843.2 485.7 L844.2 486.4 L845.2 489 L848.2 501.2 L850.2 514.5 L852.2 537.3 L858.2 639.8 L867.2 819.8 L870.2 890 L883.2 1114.3 L888.2 1175.5 L893.2 1227 L896.2 1247.4 L898.2 1256.8 L899.2 1260.4 L900.2 1262 L901.2 1261.4 L902.2 1258.9 L906.2 1241.8 L917.2 1175.2 L922.2 1149 L926.2 1130.8 L929.2 1119.7 L932.2 1111.7 L936.2 1104 L939.2 1100.7 L941.2 1100.3 L943.2 1101.4 L947.2 1105.3 L954.2 1113.5 L960.2 1118.4 L967.2 1122.3 L970.2 1123.1 L972.2 1123.1 L977.2 1121.4 L994.2 1113.6 L1021.2 1105.8 L1046.2 1100.4 L1064.2 1097.6 L1088.2 1091.7 L1096.2 1090.7 L1114.2 1089.6 L1122.2 1088.3 L1143.2 1081.9 L1169.2 1076.5 L1176.2 1074 L1193.2 1066.6 L1202.2 1063.7 L1213.2 1061.6 L1237.2 1058.7 L1246.2 1056.7 L1252.2 1054.6 L1258.2 1051.6 L1275.2 1040.5 L1288.2 1030.9 L1307.2 1014.3 L1317.2 1006.8 L1325.2 1001.5 L1333.2 997.6 L1349.2 992.7 L1356.2 989.9 L1365.2 985.3 L1385.2 973.4 L1391.2 970.6 L1397.2 968.6 L1401.2 968.4 L1405.2 969 L1410.2 970.7 L1415.2 973.1 L1424.2 979.5 L1434.2 989.1 L1443.2 999.2 L1453.2 1011.6 L1477.2 1046.1 L1494.2 1069.1 L1503.2 1079.9 L1510.2 1086.9 L1518.2 1093.2 L1527.2 1098.6 L1543.2 1106 L1555.2 1110.2 L1564.2 1112.3 L1573.2 1113.6 L1582.2 1114.2 L1591.2 1114.1 L1639.2 1107.9 L1650.2 1107.3 L1674.2 1107.1 L1688.2 1106.1 L1699.2 1104.5 L1727.2 1099.2 L1730.2 1099.4 L1740.2 1101.8 L1749.2 1102.1 L1757.2 1101.7 L1769.2 1099.6 L1788.2 1094 L1796.2 1092.9 L1805.2 1093.7 L1823.2 1098.1 L1830.2 1099.2 L1847.2 1100 L1861.5 1099.2"/>
<path d="M224.2 1117.9 L235.2 1124.7 L245.2 1129.4 L255.2 1132.8 L264.2 1134.5 L270.2 1134.3 L283.2 1131.1 L288.2 1130.6 L296.2 1131.6 L312.2 1135.6 L327.2 1136.8 L350.2 1136.9 L383.2 1134.4 L390.2 1134.8 L407.2 1137.7 L415.2 1137.5 L422.2 1135.4 L429.2 1131.3 L445.2 1117.8 L466.2 1102.8 L485.2 1086.9 L493.2 1081.2 L502.2 1076.2 L516.2 1069.4 L529.2 1064.6 L534.2 1063.7 L540.2 1064.7 L547.2 1068.6 L553.2 1073.7 L566.2 1087.6 L572.2 1093 L607.2 1115.5 L620.2 1125.2 L636.2 1139 L640.2 1141.4 L644.2 1142.9 L648.2 1143 L653.2 1141.6 L676.2 1131.1 L688.2 1126.5 L693.2 1125.5 L705.2 1125 L711.2 1124.1 L716.2 1122.2 L726.2 1117.1 L730.2 1115.8 L736.2 1115.2 L753.2 1116 L762.2 1115.1 L770.2 1113.7 L775.2 1111 L782.2 1104.6 L790.2 1095.8 L795.2 1084.1 L798.2 1075.1 L801.2 1062.7 L806.2 1036.6 L810.2 1008.7 L813.2 973.5 L822.2 883.8 L836.2 613.6 L844.2 519.9 L848.2 495.3 L850.2 487.5 L851.2 485.8 L852.2 486.5 L853.2 489 L856.2 501.1 L858.2 514.4 L860.2 537.1 L866.2 639.4 L875.2 819.4 L878.2 889.6 L891.2 1114.1 L896.2 1175.4 L901.2 1227.1 L904.2 1247.5 L906.2 1256.9 L907.2 1260.4 L908.2 1262 L909.2 1261.4 L910.2 1258.9 L915.2 1236.6 L925.2 1174.9 L934.2 1128.6 L939.2 1110.4 L941.2 1105.8 L944.2 1102.4 L946.2 1102.3 L948.2 1104.1 L955.2 1113.2 L960.2 1118.7 L967.2 1123.5 L970.2 1124.6 L972.2 1124.8 L978.2 1123 L992.2 1116.9 L1002.2 1114.4 L1014.2 1112.5 L1037.2 1110.7 L1055.2 1108.1 L1064.2 1106.1 L1081.2 1101.1 L1089.2 1099.5 L1100.2 1098.6 L1116.2 1098.6 L1124.2 1097.7 L1130.2 1096.3 L1146.2 1091.3 L1168.2 1085.5 L1186.2 1079.2 L1211.2 1068 L1220.2 1064.5 L1228.2 1062.5 L1245.2 1060.4 L1252.2 1059.1 L1260.2 1056.5 L1268.2 1052.9 L1276.2 1048.5 L1284.2 1042.7 L1290.2 1037.2 L1306.2 1020.4 L1314.2 1013.7 L1322.2 1008.1 L1330.2 1003.5 L1347.2 995.8 L1365.2 984.3 L1374.2 979.4 L1384.2 975.6 L1395.2 973.1 L1398.2 972.8 L1402.2 973.1 L1410.2 975.5 L1419.2 980.2 L1427.2 986.3 L1437.2 995.8 L1447.2 1007 L1455.2 1017.3 L1478.2 1049.9 L1492.2 1066.6 L1507.2 1082.8 L1517.2 1092 L1527.2 1099.5 L1539.2 1106 L1550.2 1110.1 L1564.2 1113.2 L1611.2 1120.9 L1623.2 1122.5 L1634.2 1123 L1647.2 1121.9 L1666.2 1117.6 L1673.2 1116.4 L1680.2 1116.1 L1696.2 1116.3 L1703.2 1115.6 L1712.2 1113.6 L1728.2 1108.5 L1739.2 1108.9 L1756.2 1105.7 L1772.2 1103.3 L1795.2 1098.7 L1801.2 1098.7 L1807.2 1099.7 L1813.2 1101.3 L1828.2 1106.6 L1840.2 1108.9 L1851.2 1109.6 L1856.2 1109.2 L1861.5 1108"/>
<path d="M224.2 1131.7 L228.2 1133.7 L233.2 1135.4 L243.2 1136.8 L264.2 1135.8 L277.2 1134.3 L283.2 1134.5 L288.2 1135.7 L303.2 1142.5 L311.2 1145 L348.2 1148 L361.2 1148 L392.2 1144.4 L411.2 1144.5 L420.2 1143.5 L424.2 1142.4 L428.2 1140.6 L436.2 1135.1 L462.2 1111.9 L482.2 1092.7 L491.2 1085.4 L501.2 1079.4 L530.2 1064.5 L533.2 1063.3 L537.2 1062.7 L540.2 1062.7 L544.2 1063.6 L551.2 1067.3 L557.2 1072.4 L571.2 1086.8 L590.2 1101.2 L605.2 1111.5 L621.2 1121.1 L638.2 1134.3 L642.2 1136.6 L646.2 1138 L652.2 1138 L659.2 1136.2 L667.2 1133.1 L682.2 1126.2 L690.2 1123.5 L696.2 1123.5 L711.2 1126 L716.2 1125.4 L727.2 1122.1 L731.2 1121.4 L737.2 1121.5 L750.2 1122.9 L758.2 1122.6 L770.2 1121 L775.2 1117.2 L781.2 1109.3 L786.2 1101.5 L788.2 1097.7 L791.2 1089.8 L795.2 1075 L798.2 1060.9 L803.2 1034.1 L806.2 1013.1 L810.2 968.1 L818.2 889.6 L819.2 875.4 L831.2 636.3 L833.2 607 L839.2 534.8 L841.2 516.1 L845.2 493.4 L847.2 487 L848.2 486.7 L849.2 488.7 L851.2 495.6 L854.2 512.1 L857.2 547.5 L862.2 632.7 L871.2 812.2 L875.2 901.7 L887.2 1109.3 L891.2 1160.2 L897.2 1224.1 L900.2 1245.9 L902.2 1255.6 L904.2 1262.1 L905.2 1262.4 L906.2 1260.5 L911.2 1239.1 L921.2 1177.5 L926.2 1151 L930.2 1132.5 L933.2 1121.1 L937.2 1109.3 L939.2 1104.9 L942.2 1101.9 L944.2 1102 L946.2 1103.9 L949.2 1108 L955.2 1117.9 L960.2 1123.8 L966.2 1127.8 L971.2 1129.4 L973.2 1129.3 L977.2 1128 L994.2 1120.5 L1015.2 1115.2 L1024.2 1113.9 L1055.2 1111.5 L1085.2 1105.1 L1110.2 1103.5 L1118.2 1102.1 L1126.2 1099.2 L1141.2 1091.2 L1150.2 1087.4 L1174.2 1080 L1200.2 1069.8 L1214.2 1064.8 L1224.2 1061.8 L1246.2 1056.6 L1258.2 1052.1 L1279.2 1041.8 L1289.2 1036.1 L1309.2 1020.7 L1324.2 1008.3 L1332.2 1002.7 L1338.2 999.9 L1355.2 993.4 L1380.2 981.2 L1387.2 978.7 L1393.2 977.3 L1397.2 976.9 L1401.2 977.4 L1406.2 979.1 L1411.2 981.6 L1422.2 988.9 L1436.2 1000.9 L1444.2 1008.6 L1452.2 1017.3 L1474.2 1045.4 L1485.2 1057.9 L1512.2 1086.1 L1527.2 1099.8 L1537.2 1106.9 L1548.2 1113.2 L1569.2 1122.4 L1580.2 1126.3 L1586.2 1127.6 L1591.2 1128.1 L1617.2 1125.7 L1638.2 1127.5 L1646.2 1127.5 L1653.2 1126.3 L1672.2 1120.7 L1682.2 1118.7 L1705.2 1116.3 L1727.2 1112.9 L1730.2 1113 L1739.2 1114.9 L1771.2 1112.3 L1781.2 1110.6 L1794.2 1107.1 L1800.2 1106.2 L1810.2 1106.6 L1828.2 1110.3 L1839.2 1111.1 L1851.2 1110.8 L1861.5 1108.6"/>
<path d="M224.2 1131.7 L235.2 1135.9 L247.2 1138.4 L265.2 1139.5 L280.2 1137 L286.2 1136.8 L292.2 1137.9 L306.2 1142.4 L312.2 1143.8 L349.2 1147.7 L362.2 1147.8 L389.2 1145.1 L413.2 1147 L419.2 1146.9 L423.2 1146.3 L430.2 1143.8 L437.2 1139.4 L462.2 1119.4 L486.2 1098 L497.2 1089.8 L514.2 1078.2 L525.2 1071.5 L532.2 1068 L537.2 1067.2 L543.2 1068.3 L550.2 1072 L556.2 1077 L571.2 1092.3 L598.2 1113.4 L609.2 1121 L624.2 1129.3 L639.2 1139.9 L643.2 1142 L646.2 1142.9 L651.2 1143.1 L658.2 1142 L672.2 1138.7 L691.2 1133.3 L706.2 1132.7 L711.2 1132 L715.2 1130.6 L725.2 1125.9 L730.2 1124.5 L736.2 1124.4 L751.2 1126 L763.2 1124.6 L770.2 1122.9 L775.2 1118.3 L780.2 1110.5 L785.2 1101.4 L787.2 1096.5 L790.2 1086.5 L796.2 1056.8 L801.2 1026.6 L803.2 1011.4 L807.2 966.2 L815.2 887.4 L829.2 617.3 L837.2 522.7 L841.2 497.4 L843.2 489.2 L844.2 487.1 L845.2 487.3 L847.2 492.9 L850.2 506.9 L852.2 523.3 L854.2 551 L859.2 636.9 L868.2 816.8 L871.2 887.1 L884.2 1113 L889.2 1174.7 L894.2 1226.7 L897.2 1247.7 L899.2 1257.2 L901.2 1263 L902.2 1262.8 L903.2 1260.6 L907.2 1243.7 L918.2 1177 L923.2 1150.7 L927.2 1132.5 L930.2 1121.4 L933.2 1113.6 L936.2 1107.5 L939.2 1103.7 L941.2 1103.4 L942.2 1103.8 L945.2 1107.7 L949.2 1115.1 L955.2 1128.6 L960.2 1136.2 L965.2 1139.3 L970.2 1140.7 L973.2 1140.4 L976.2 1139.2 L993.2 1130 L1001.2 1127.7 L1011.2 1126.1 L1028.2 1125.7 L1035.2 1124.8 L1046.2 1122.2 L1075.2 1113.4 L1091.2 1109.5 L1102.2 1107.5 L1122.2 1106.4 L1130.2 1105 L1141.2 1101.2 L1171.2 1089.4 L1205.2 1080.1 L1224.2 1074 L1235.2 1069.8 L1258.2 1059.7 L1279.2 1051.5 L1286.2 1047.7 L1292.2 1043.2 L1323.2 1014.1 L1332.2 1007.1 L1337.2 1004.4 L1351.2 999 L1376.2 987.4 L1384.2 984.7 L1392.2 983 L1399.2 982.6 L1407.2 984.9 L1417.2 990.1 L1427.2 997.4 L1439.2 1008.2 L1450.2 1019.9 L1457.2 1028.7 L1474.2 1052.5 L1484.2 1065.4 L1498.2 1082.2 L1510.2 1094.8 L1521.2 1104.1 L1532.2 1111.3 L1548.2 1119.6 L1561.2 1124.1 L1573.2 1126.7 L1586.2 1128.1 L1640.2 1129.3 L1655.2 1128.2 L1688.2 1123.4 L1703.2 1122 L1728.2 1121.4 L1737.2 1124 L1740.2 1124.1 L1754.2 1121.1 L1769.2 1116.7 L1786.2 1110.8 L1795.2 1109 L1800.2 1109.1 L1805.2 1110 L1823.2 1115.4 L1830.2 1116.7 L1847.2 1116.7 L1854.2 1115.9 L1861.5 1114.3"/>
</g>
<path d="M224.2 1082 L242.2 1083.8 L261.2 1085.1 L356.2 1088.7 L377.2 1089 L414.2 1088.9 L422.2 1088.7 L430.2 1087.6 L436.2 1086.1 L441.2 1083.5 L448.2 1077.6 L465.2 1062.3 L471.2 1057.8 L477.2 1054.1 L488.2 1048.3 L507.2 1039.9 L525.2 1029.7 L531.2 1027.5 L535.2 1026.8 L537.2 1027 L540.2 1028 L542.2 1029.2 L547.2 1033 L556.2 1040.9 L569.2 1054.3 L575.2 1059.4 L579.2 1062 L590.2 1068 L594.2 1070.5 L618.2 1088.3 L634.2 1099.6 L646.2 1107.1 L652.2 1109.7 L656.2 1110.3 L661.2 1109.9 L695.2 1104.6 L715.2 1102.5 L719.2 1101.7 L729.2 1098.7 L734.2 1097.9 L739.2 1098.3 L749.2 1100.4 L754.2 1101.2 L764.2 1102.4 L769.2 1102.6 L772.2 1102.1 L778.2 1100.4 L780.2 1099.3 L783.2 1096.9 L787.2 1092.4 L789.2 1088.6 L791.2 1083.4 L794.2 1073.6 L797.2 1060.4 L802.2 1034.3 L804.2 1022 L806.2 1006.4 L809.2 971.2 L818.2 881.6 L820.2 846.5 L830.2 645.8 L832.2 611.8 L840.2 518.2 L842.2 504.6 L844.2 493.6 L846.2 485.7 L847.2 484 L848.2 484.8 L849.2 487.3 L852.2 499.4 L854.2 512.7 L856.2 535.4 L862.2 637.8 L871.2 817.8 L874.2 888 L878.2 953.7 L885.2 1082.3 L887.2 1112.6 L892.2 1173.8 L897.2 1225.3 L898.2 1233.5 L900.2 1245.6 L902.2 1255 L903.2 1258.5 L904.2 1260.1 L905.2 1259.5 L906.2 1257 L910.2 1239.8 L913.2 1223.1 L921.2 1173 L926.2 1146.8 L930.2 1128.7 L933.2 1117.6 L937.2 1106.1 L940.2 1100.2 L942.2 1097.8 L943.2 1097.1 L944.2 1096.9 L945.2 1097.1 L948.2 1098.6 L956.2 1105.6 L962.2 1109.3 L969.2 1112 L971.2 1112.3 L973.2 1112.1 L980.2 1109.8 L992.2 1105 L996.2 1103.8 L1012.2 1101.2 L1021.2 1099.1 L1035.2 1095.5 L1055.2 1089.5 L1077.2 1084.1 L1094.2 1079.2 L1119.2 1074.1 L1155.2 1066 L1175.2 1060.8 L1191.2 1055.9 L1215.2 1047.7 L1228.2 1042.7 L1248.2 1032.9 L1265.2 1023.8 L1276.2 1017.3 L1285.2 1010.8 L1290.2 1006.4 L1304.2 992.9 L1316.2 982 L1325.2 974.3 L1332.2 969.2 L1338.2 965.9 L1346.2 962.5 L1360.2 958.1 L1370.2 955.7 L1377.2 954.7 L1386.2 954.1 L1392.2 954.3 L1398.2 955.3 L1406.2 957.7 L1417.2 962.1 L1425.2 966.3 L1431.2 970.2 L1437.2 975.1 L1445.2 982.6 L1451.2 988.7 L1457.2 995.6 L1468.2 1009.9 L1479.2 1024.9 L1491.2 1041.7 L1506.2 1063.6 L1510.2 1068.5 L1515.2 1073.8 L1520.2 1078.3 L1526.2 1082.9 L1531.2 1086.1 L1537.2 1089.4 L1545.2 1093.4 L1553.2 1096.8 L1560.2 1099.4 L1566.2 1101.1 L1579.2 1103.7 L1594.2 1105.4 L1608.2 1106 L1622.2 1105.6 L1633.2 1104.5 L1644.2 1102.8 L1690.2 1093.6 L1771.2 1081.6 L1788.2 1080.1 L1811.2 1079 L1836.2 1078.5 L1861.5 1078.5" stroke="#0072BD" stroke-width="12.2"/>
<path d="M224.2 1052.4 L257.2 1055.6 L300.2 1058.3 L318.2 1060.3 L338.2 1061.4 L361.2 1062.2 L407.2 1062.9 L420.2 1062.8 L426.2 1062.2 L435.2 1060.3 L440.2 1058 L448.2 1051.8 L465.2 1037.4 L472.2 1032.5 L479.2 1028.4 L490.2 1023 L508.2 1016 L526.2 1005.8 L531.2 1004 L535.2 1003.3 L538.2 1003.8 L541.2 1005.1 L549.2 1011.3 L556.2 1017.8 L569.2 1032.5 L575.2 1037.8 L580.2 1041 L591.2 1047.2 L595.2 1049.9 L607.2 1059.4 L621.2 1071.7 L628.2 1077 L648.2 1089.6 L654.2 1092.6 L657.2 1093.3 L663.2 1093.4 L689.2 1089 L695.2 1088.4 L707.2 1087.9 L714.2 1087.2 L719.2 1086.2 L729.2 1082.9 L734.2 1081.9 L738.2 1081.9 L742.2 1082.4 L756.2 1084.8 L767.2 1087.3 L770.2 1087.6 L774.2 1087.3 L779.2 1086.5 L782.2 1084.8 L785.2 1082.3 L787.2 1079.9 L789.2 1076 L792.2 1067.5 L794.2 1059.9 L801.2 1023.8 L804.2 1002.3 L809.2 942 L815.2 886.6 L817.2 860.2 L828.2 633.8 L831.2 583.5 L832.2 573.2 L834.2 557.8 L836.2 536 L839.2 514.5 L840.2 509 L844.2 492.2 L846.2 485.5 L847.2 484 L848.2 484.7 L850.2 489.9 L853.2 500.4 L855.2 509.1 L858.2 528 L859.2 540.6 L862.2 588.7 L871.2 760.6 L875.2 857.5 L880.2 942.9 L887.2 1075.2 L889.2 1105.7 L898.2 1224.9 L899.2 1234 L901.2 1246.2 L903.2 1254.9 L904.2 1256.7 L905.2 1256 L906.2 1253.3 L910.2 1234.3 L912.2 1221.1 L918.2 1173.8 L921.2 1156.9 L927.2 1127.1 L931.2 1112.1 L937.2 1092.9 L939.2 1087.7 L941.2 1083.7 L943.2 1081 L944.2 1080.2 L946.2 1080.1 L949.2 1081.1 L956.2 1085.9 L970.2 1093.1 L973.2 1093.8 L978.2 1093.4 L982.2 1092.5 L985.2 1091.4 L995.2 1086 L1001.2 1083.8 L1014.2 1081.6 L1033.2 1077 L1052.2 1071.6 L1077.2 1066.7 L1095.2 1061.8 L1106.2 1059.2 L1120.2 1056.4 L1143.2 1053 L1164.2 1048.8 L1178.2 1045.3 L1193.2 1040.6 L1217.2 1032.5 L1228.2 1028.2 L1251.2 1016.3 L1266.2 1008.1 L1275.2 1002.4 L1284.2 995.5 L1289.2 990.9 L1301.2 978.6 L1306.2 973.9 L1325.2 957.7 L1333.2 951.7 L1339.2 948.3 L1346.2 945.4 L1359.2 941.2 L1370.2 938.3 L1377.2 937.1 L1386.2 936.2 L1392.2 936.1 L1398.2 936.9 L1405.2 938.8 L1414.2 942.4 L1421.2 945.9 L1428.2 950.3 L1433.2 954.3 L1439.2 959.8 L1448.2 968.8 L1455.2 976.7 L1468.2 993.1 L1478.2 1006.3 L1491.2 1024 L1506.2 1045.4 L1510.2 1050.2 L1515.2 1055.3 L1520.2 1059.7 L1526.2 1064.1 L1531.2 1067.3 L1539.2 1071.6 L1546.2 1075 L1558.2 1080 L1564.2 1082.1 L1571.2 1084 L1583.2 1086.4 L1596.2 1088 L1610.2 1088.3 L1624.2 1087.7 L1637.2 1086.2 L1661.2 1082.7 L1688.2 1076.7 L1716.2 1072.1 L1752.2 1065.2 L1766.2 1063.1 L1785.2 1061.3 L1822.2 1058.8 L1861.5 1058.4" stroke="#0072BD" stroke-width="12.5" stroke-dasharray="12.5 10.5"/>
<path d="M224.2 1111.6 L243.2 1113.4 L263.2 1114.4 L300.2 1114.7 L318.2 1114 L367.2 1115.4 L393.2 1115.4 L421.2 1114.8 L432.2 1113.4 L437.2 1111.9 L441.2 1109.6 L448.2 1103.4 L465.2 1087.1 L470.2 1083.1 L476.2 1079.2 L486.2 1073.6 L505.2 1064.3 L524.2 1053.7 L530.2 1051.2 L535.2 1050.3 L537.2 1050.5 L540.2 1051.5 L545.2 1054.9 L559.2 1066.6 L571.2 1077.9 L576.2 1081.8 L593.2 1091.2 L607.2 1101.1 L622.2 1110 L633.2 1117.6 L643.2 1124.1 L647.2 1126.3 L650.2 1127.3 L653.2 1127.7 L655.2 1127.7 L664.2 1125.7 L686.2 1122.6 L702.2 1119.5 L716.2 1117.8 L728.2 1114.7 L732.2 1114 L735.2 1113.9 L738.2 1114.3 L749.2 1117.2 L754.2 1118 L760.2 1118.3 L767.2 1117.9 L771.2 1117 L777.2 1114.4 L779.2 1113.3 L782.2 1110.8 L786.2 1106.3 L788.2 1103.1 L791.2 1096.2 L794.2 1087.3 L797.2 1075.4 L806.2 1032.7 L812.2 967.2 L815.2 938 L816.2 930.7 L818.2 920.3 L820.2 894.5 L822.2 858 L828.2 737.7 L832.2 650.4 L836.2 593.4 L839.2 541 L841.2 517 L843.2 501.2 L845.2 489.8 L846.2 485.9 L847.2 484.1 L848.2 484.8 L849.2 487.6 L851.2 496.2 L852.2 502.2 L854.2 521 L855.2 536.1 L859.2 629 L868.2 809.7 L874.2 940.6 L877.2 980.7 L881.2 1058.5 L885.2 1125 L889.2 1171.5 L894.2 1221.9 L899.2 1246.5 L902.2 1258.9 L903.2 1262.1 L904.2 1263.6 L905.2 1262.9 L907.2 1257.1 L914.2 1228.3 L918.2 1208.2 L924.2 1172.2 L931.2 1137.4 L933.2 1129.9 L936.2 1121.3 L938.2 1117.4 L939.2 1115.9 L941.2 1114 L943.2 1113.3 L944.2 1113.5 L945.2 1114.1 L949.2 1117.6 L956.2 1125.4 L961.2 1129.1 L966.2 1130.9 L969.2 1131.3 L971.2 1131.1 L973.2 1130.5 L982.2 1125.6 L989.2 1123.2 L994.2 1122.2 L1003.2 1121.7 L1010.2 1120.8 L1027.2 1116.7 L1038.2 1113.6 L1061.2 1106.2 L1078.2 1101.3 L1091.2 1097.2 L1097.2 1095.8 L1114.2 1092.8 L1120.2 1091.4 L1137.2 1086.2 L1171.2 1076.7 L1190.2 1070.8 L1213.2 1063 L1228.2 1057.2 L1247.2 1048.5 L1265.2 1039 L1278.2 1031.7 L1287.2 1025.4 L1296.2 1017.6 L1320.2 995.2 L1326.2 990.2 L1331.2 986.7 L1338.2 982.9 L1346.2 979.6 L1359.2 975.6 L1369.2 973.2 L1376.2 972.3 L1385.2 971.9 L1391.2 972.3 L1397.2 973.5 L1410.2 977.8 L1420.2 981.8 L1427.2 985.4 L1435.2 990.8 L1441.2 995.7 L1448.2 1002.2 L1454.2 1008.6 L1459.2 1014.6 L1468.2 1026.7 L1481.2 1045 L1506.2 1081.8 L1510.2 1086.9 L1515.2 1092.3 L1520.2 1096.9 L1525.2 1100.9 L1530.2 1104.3 L1535.2 1107.2 L1542.2 1110.9 L1549.2 1114.1 L1556.2 1116.8 L1562.2 1118.6 L1575.2 1121.1 L1589.2 1122.6 L1606.2 1123.7 L1621.2 1123.5 L1631.2 1122.5 L1642.2 1120.8 L1662.2 1116.2 L1689.2 1110.9 L1713.2 1107.5 L1751.2 1103.5 L1776.2 1100.1 L1789.2 1099.1 L1805.2 1098.3 L1861.5 1098.6" stroke="#0072BD" stroke-width="12.5" stroke-dasharray="12.5 10.5"/>
</g>
<g clip-path="url(#cg)" stroke="#008000" stroke-width="6.4" stroke-dasharray="59.3 33" fill="none">
<path d="M435.3 475.5V1460"/>
<path d="M531.4 475.5V1460"/>
<path d="M626.9 475.5V1460"/>
<path d="M770.5 475.5V1460"/>
<path d="M847.5 475.5V1460"/>
<path d="M952.3 475.5V1460"/>
<path d="M1096.1 475.5V1460"/>
<path d="M1383 475.5V1460"/>
<path d="M1517.1 475.5V1460"/>
</g>
<g fill="#000" font-size="63.45">
<text transform="translate(441.9 1436.8) rotate(-90) scale(1.0 1.03)">P Start</text>
<text transform="translate(538 1436.8) rotate(-90) scale(1.0 1.03)">P Peak</text>
<text transform="translate(633.5 1436.8) rotate(-90) scale(1.0 1.03)">P End</text>
<text transform="translate(777.1 1436.8) rotate(-90) scale(1.0 1.03)">QRS Start</text>
<text transform="translate(854.1 1436.8) rotate(-90) scale(1.0 1.03)">QRS Max</text>
<text transform="translate(958.9 1436.8) rotate(-90) scale(1.0 1.03)">QRS End</text>
<text transform="translate(1102.7 1436.8) rotate(-90) scale(1.0 1.03)">ST Height</text>
<text transform="translate(1389.6 1436.8) rotate(-90) scale(1.0 1.03)">T Peak</text>
<text transform="translate(1523.7 1436.8) rotate(-90) scale(1.0 1.03)">T End</text>
</g>
<g fill="#262626" font-size="58.33" text-anchor="middle">
<text transform="translate(214.4 1537) scale(0.96 1.03)">0</text>
<text transform="translate(543.5 1537) scale(0.96 1.03)">0.2</text>
<text transform="translate(872.6 1537) scale(0.96 1.03)">0.4</text>
<text transform="translate(1201.7 1537) scale(0.96 1.03)">0.6</text>
<text transform="translate(1530.8 1537) scale(0.96 1.03)">0.8</text>
<text transform="translate(1859.9 1537) scale(0.96 1.03)">1</text>
<text transform="translate(175.2 483.5) rotate(-90) scale(0.96 1.03)">1</text>
<text transform="translate(175.2 678.1) rotate(-90) scale(0.96 1.03)">0.5</text>
<text transform="translate(175.2 872.7) rotate(-90) scale(0.96 1.03)">0</text>
<text transform="translate(175.2 1069.8) rotate(-90) scale(0.96 1.03)">-<tspan dx="5.2">0.5</tspan></text>
<text transform="translate(175.2 1264.4) rotate(-90) scale(0.96 1.03)">-<tspan dx="5.2">1</tspan></text>
<text transform="translate(175.2 1459) rotate(-90) scale(0.96 1.03)">-<tspan dx="5.2">1.5</tspan></text>
</g>
<g fill="#262626" font-size="63.45" text-anchor="middle">
<text transform="translate(1035 1624) scale(1.0 1.03)">Normalized time</text>
<text transform="translate(83 973) rotate(-90) scale(1.0 1.03)">Normalized volt.</text>
</g>
</g>
</svg>
</body></html>
